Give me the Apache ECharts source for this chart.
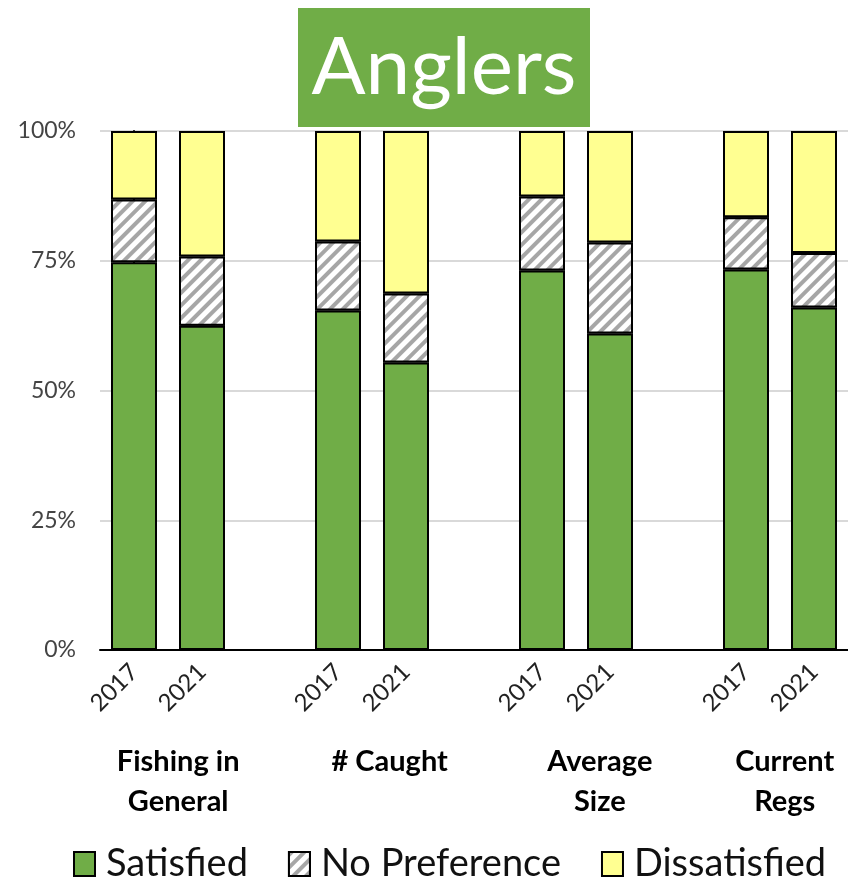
<!DOCTYPE html>
<html>
<head>
<meta charset="utf-8">
<script src="https://cdn.jsdelivr.net/npm/echarts@6/dist/echarts.min.js"></script>
<style>
  html, body { margin: 0; padding: 0; background: #fff; }
  #chart { width: 848px; height: 890px; }
</style>
</head>
<body>
<div id="chart"></div>
<script>
// 问卷结果（百分比）
const groups = ['Fishing in\nGeneral', '# Caught', 'Average\nSize', 'Current\nRegs']
const years = ['2017', '2021']
const satisfied = [74.7, 62.5, 65.4, 55.4, 73.1, 61.0, 73.3, 66.0]
const noPreference = [12.1, 13.3, 13.3, 13.3, 14.3, 17.5, 10.1, 10.5]
const dissatisfied = [13.2, 24.2, 21.3, 31.3, 12.6, 21.5, 16.6, 23.5]
const yTicks = [0, 25, 50, 75, 100]

const font = 'Lato, "Open Sans", sans-serif'
const groupLabelPos = [0.65, 3.76, 6.85, 9.57] // 组名位置（类目坐标）

// 每组两根柱子，组之间留一个空类目
const categories = []
groups.forEach((g, i) => {
  years.forEach(y => categories.push(y))
  if (i < groups.length - 1) categories.push('')
})
const spread = arr => {
  const out = []
  let k = 0
  groups.forEach((g, i) => {
    years.forEach(() => { out.push(arr[k++]) })
    if (i < groups.length - 1) out.push('-')
  })
  return out
}

const myChart = echarts.init(document.getElementById('chart'))
const option = {
  animation: false,
  graphic: [
    {
      type: 'rect',
      shape: { x: 298, y: 8, width: 292, height: 119 },
      style: { fill: '#70AD47' }
    },
    {
      type: 'text',
      x: 444,
      y: 68,
      style: {
        text: 'Anglers',
        fill: '#fff',
        font: '80px ' + font,
        align: 'center',
        verticalAlign: 'middle'
      }
    }
  ],
  legend: {
    bottom: 2,
    left: 68,
    itemWidth: 21,
    itemHeight: 24,
    itemGap: 40,
    icon: 'rect',
    textStyle: { fontFamily: font, fontSize: 38, color: '#111', padding: [0, 0, 0, 6] },
    data: ['Satisfied', 'No Preference', 'Dissatisfied']
  },
  grid: {
    left: 100,
    right: 0,
    top: 131,
    bottom: 240
  },
  xAxis: [
    {
      type: 'category',
      data: categories,
      axisLine: { lineStyle: { color: '#000', width: 2 } },
      axisTick: { show: false },
      axisLabel: {
        interval: 0,
        rotate: 45,
        margin: 18,
        fontFamily: font,
        fontSize: 24,
        color: '#222'
      }
    },
    {
      type: 'value',
      position: 'bottom',
      min: -0.5,
      max: 10.5,
      axisLine: { show: false },
      axisTick: { show: false },
      splitLine: { show: false },
      axisLabel: {
        customValues: groupLabelPos,
        margin: 92,
        fontFamily: font,
        fontSize: 29,
        fontWeight: 'bold',
        lineHeight: 40,
        color: '#000',
        formatter: (v) => {
          const idx = groupLabelPos.indexOf(v)
          return idx >= 0 ? groups[idx] : ''
        }
      }
    }
  ],
  yAxis: {
    type: 'value',
    min: 0,
    max: 100,
    interval: 25,
    axisLine: { show: true, lineStyle: { color: '#000', width: 2 } },
    axisTick: { show: false },
    splitLine: { lineStyle: { color: '#d9d9d9', width: 2 } },
    axisLabel: {
      margin: 24,
      fontFamily: font,
      fontSize: 23,
      color: '#444',
      formatter: v => yTicks.indexOf(v) >= 0 ? v + '%' : ''
    }
  },
  series: [
    {
      name: 'Satisfied',
      type: 'bar',
      stack: 'all',
      barWidth: 46,
      itemStyle: { color: '#70AD47', borderColor: '#000', borderWidth: 2 },
      data: spread(satisfied)
    },
    {
      name: 'No Preference',
      type: 'bar',
      stack: 'all',
      barWidth: 46,
      itemStyle: {
        color: '#fff',
        borderColor: '#000',
        borderWidth: 2,
        decal: {
          symbol: 'rect',
          symbolSize: 1,
          color: '#a6a6a6',
          backgroundColor: '#fff',
          dashArrayX: [1, 0],
          dashArrayY: [4, 5],
          rotation: -Math.PI / 4
        }
      },
      data: spread(noPreference)
    },
    {
      name: 'Dissatisfied',
      type: 'bar',
      stack: 'all',
      barWidth: 46,
      itemStyle: { color: '#FFFF91', borderColor: '#000', borderWidth: 2 },
      data: spread(dissatisfied)
    }
  ]
}
myChart.setOption(option)
</script>
</body>
</html>
